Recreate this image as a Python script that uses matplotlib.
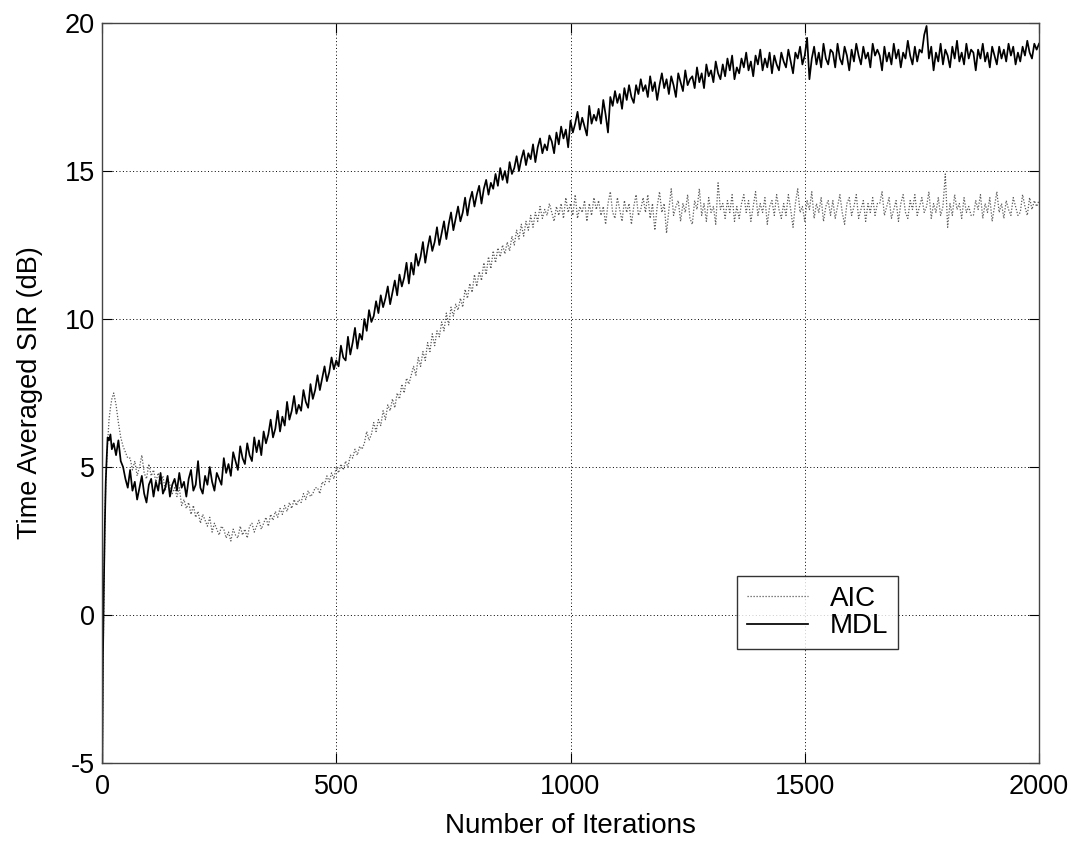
import matplotlib
matplotlib.use("Agg")
import matplotlib.pyplot as plt

# ---------------- data ----------------
early_iters = [0, 2, 4, 6, 8, 10, 12, 15, 18, 21, 25, 30, 35, 40, 45, 50, 55]
step_iters = list(range(60, 2001, 5))
iterations = early_iters + step_iters

mdl_early = [-7.0, -1.5, 1.0, 3.0, 4.5, 5.3, 6.0, 5.9, 6.1, 5.6, 5.8, 5.4, 5.9, 5.2, 5.0, 4.6, 4.3]
mdl_main = [
    4.9, 4.2, 4.5, 3.9, 4.3, 4.7, 4.1, 3.8, 4.4, 4.6, 4.0, 4.5, 4.2, 4.8, 4.1, 4.3, 4.7, 4.0, 4.4, 4.6,
    4.2, 4.8, 4.3, 4.5, 4.0, 4.6, 4.9, 4.2, 4.4, 5.2, 4.3, 4.1, 4.7, 4.4, 5.0, 4.5, 4.2, 4.8, 4.6, 4.4,
    5.3, 4.8, 5.1, 4.7, 5.5, 5.2, 4.9, 5.7, 5.3, 5.1, 5.8, 5.4, 5.2, 6.0, 5.5, 5.9, 5.4, 6.2, 5.8, 6.1,
    6.6, 6.0, 6.3, 6.9, 6.2, 6.7, 6.4, 7.2, 6.6, 6.9, 7.4, 6.8, 7.1, 6.9, 7.6, 7.2, 7.0, 7.8, 7.3, 7.6,
    8.1, 7.6, 8.0, 8.4, 7.9, 8.2, 8.7, 8.3, 8.6, 8.4, 9.1, 8.7, 8.6, 9.4, 8.8, 9.2, 9.7, 9.0, 9.5, 9.3,
    10.0, 9.6, 10.3, 9.9, 10.1, 10.6, 10.2, 10.8, 10.4, 10.7, 11.1, 10.5, 10.9, 11.3, 10.8, 11.5, 11.1, 11.4, 11.9, 11.2,
    11.9, 11.5, 12.2, 11.8, 12.1, 12.6, 11.9, 12.4, 12.8, 12.3, 12.6, 13.1, 12.5, 12.9, 13.3, 12.7, 13.2, 13.6, 13.0, 13.4,
    13.8, 13.3, 13.6, 14.1, 13.5, 14.0, 14.3, 13.8, 14.2, 14.5, 13.9, 14.4, 14.7, 14.2, 14.6, 14.4, 14.9, 14.5, 15.1, 14.7,
    15.0, 14.6, 15.3, 14.9, 15.1, 15.5, 15.0, 15.4, 15.7, 15.2, 15.6, 15.4, 15.9, 15.3, 15.8, 16.1, 15.6, 15.9, 15.7, 16.2,
    16.0, 15.6, 16.3, 15.9, 16.5, 16.1, 16.4, 15.8, 16.7, 16.3, 16.6, 17.0, 16.4, 16.8, 16.5, 16.2, 17.2, 16.6, 16.9, 16.7,
    17.1, 16.6, 17.4, 16.9, 16.3, 17.5, 17.2, 17.7, 17.3, 17.6, 17.1, 17.8, 17.4, 17.9, 17.5, 17.3, 17.9, 17.6, 18.1, 17.7,
    17.9, 17.5, 18.2, 17.7, 18.0, 17.4, 17.9, 18.3, 17.8, 18.1, 17.6, 18.2, 17.9, 17.5, 18.3, 18.0, 17.7, 18.4, 17.9, 18.1,
    18.2, 17.8, 18.5, 18.0, 18.3, 17.8, 18.6, 18.2, 18.4, 18.0, 18.7, 18.3, 18.1, 18.6, 18.2, 18.8, 18.4, 18.9, 18.1, 18.5,
    18.3, 18.8, 18.5, 19.0, 18.4, 18.7, 18.2, 18.9, 18.6, 19.1, 18.4, 18.8, 18.5, 19.0, 18.3, 18.9, 18.6, 18.4, 19.0, 18.7,
    18.5, 19.1, 18.7, 18.3, 19.0, 18.8, 19.2, 18.6, 18.9, 19.5, 18.1, 18.8, 19.2, 18.6, 19.0, 18.5, 19.3, 18.8, 18.6, 19.1,
    19.0, 18.5, 19.3, 18.8, 18.6, 19.2, 18.9, 18.4, 19.1, 18.7, 19.3, 18.9, 18.6, 19.2, 18.8, 19.0, 18.5, 19.3, 18.9, 19.1,
    18.9, 18.4, 19.2, 18.7, 19.0, 18.6, 19.3, 18.8, 19.1, 18.5, 19.0, 18.8, 19.4, 18.9, 18.6, 19.2, 18.7, 19.1, 19.0, 19.6,
    19.9, 18.8, 19.2, 18.4, 19.0, 18.7, 19.3, 18.6, 19.1, 18.9, 18.5, 19.2, 18.8, 19.4, 18.7, 19.0, 18.6, 19.3, 18.8, 19.1,
    19.0, 18.4, 19.1, 18.8, 19.3, 18.7, 19.0, 18.5, 19.2, 18.9, 18.6, 19.2, 18.8, 19.1, 18.7, 19.3, 18.9, 19.2, 18.6, 19.0,
    18.7, 19.2, 18.9, 19.4, 19.0, 18.8, 19.3, 19.1, 19.3,
]
mdl = mdl_early + mdl_main

aic_early = [-7.0, -2.0, 0.5, 3.0, 4.5, 5.2, 5.8, 6.6, 7.0, 7.3, 7.5, 7.1, 6.5, 6.0, 5.7, 5.5, 5.3]
aic_main = [
    5.3, 4.9, 5.2, 4.7, 5.0, 5.4, 4.8, 4.6, 5.1, 4.7, 4.9, 4.5, 4.8, 4.4, 4.7, 4.2, 4.6, 4.4, 4.1, 4.3,
    4.0, 4.3, 3.7, 3.9, 3.6, 3.8, 3.4, 3.7, 3.3, 3.5, 3.1, 3.4, 3.2, 3.0, 3.3, 2.8, 3.1, 2.9, 2.7, 3.0,
    2.9, 2.6, 2.8, 2.5, 2.9, 2.7, 2.6, 3.0, 2.7, 2.9, 2.6, 3.0, 3.1, 2.8, 3.0, 3.2, 2.9, 3.1, 3.3, 3.0,
    3.4, 3.2, 3.5, 3.3, 3.6, 3.4, 3.7, 3.5, 3.8, 3.6, 3.9, 3.7, 3.9, 3.8, 4.1, 3.9, 4.2, 4.0, 4.1, 4.3,
    4.3, 4.1, 4.5, 4.4, 4.7, 4.5, 4.8, 4.6, 5.0, 4.8, 5.1, 4.9, 5.2, 5.0, 5.4, 5.3, 5.6, 5.4, 5.7, 5.6,
    5.8, 6.2, 5.9, 6.1, 6.5, 6.2, 6.6, 6.4, 6.9, 6.6, 7.1, 6.9, 7.3, 7.0, 7.5, 7.3, 7.8, 7.5, 8.0, 7.8,
    8.1, 8.4, 8.1, 8.7, 8.4, 8.9, 8.6, 9.2, 8.9, 9.5, 9.1, 9.6, 9.4, 9.9, 9.6, 10.2, 9.8, 10.4, 10.1, 10.5,
    10.3, 10.7, 10.4, 11.0, 10.7, 11.2, 10.9, 11.5, 11.1, 11.6, 11.3, 11.9, 11.5, 12.1, 11.7, 12.3, 11.9, 12.4, 12.1, 12.5,
    12.2, 12.6, 12.3, 12.8, 12.5, 13.0, 12.7, 13.2, 12.8, 13.3, 13.0, 13.5, 13.1, 13.6, 13.3, 13.8, 13.4, 13.7, 13.5, 13.9,
    13.6, 13.3, 13.8, 13.5, 13.9, 13.4, 14.1, 13.6, 13.9, 13.5, 14.2, 13.4, 13.8, 13.6, 14.0, 13.3, 13.9, 13.5, 14.1, 13.7,
    14.0, 13.5, 13.8, 13.2, 13.9, 14.3, 13.6, 13.4, 14.1, 13.7, 13.3, 14.0, 13.6, 13.9, 13.2, 13.8, 14.2, 13.5, 13.7, 14.1,
    13.6, 14.2, 13.4, 13.9, 13.0, 13.8, 14.3, 13.6, 13.9, 12.9, 13.7, 14.4, 13.5, 13.8, 14.0, 13.3, 13.9, 13.6, 14.2, 13.4,
    13.2, 14.0, 13.7, 14.4, 13.5, 13.9, 13.3, 14.1, 13.6, 13.8, 13.2, 14.6, 13.7, 13.9, 13.4, 14.0, 13.6, 14.2, 13.3, 13.8,
    13.4, 13.9, 14.2, 13.6, 14.0, 13.3, 13.8, 14.3, 13.5, 13.9, 13.6, 14.1, 13.2, 13.8, 14.0, 13.5, 14.2, 13.7, 13.4, 13.9,
    13.5, 14.2, 13.7, 13.1, 13.9, 14.4, 13.6, 13.8, 13.3, 14.0, 13.7, 14.3, 13.4, 13.9, 13.6, 14.1, 13.3, 13.8, 14.0, 13.5,
    14.0, 13.4, 13.8, 14.2, 13.6, 13.2, 13.9, 14.1, 13.5, 13.8, 14.2, 13.4, 13.7, 14.0, 13.3, 13.9, 13.6, 14.1, 13.5, 13.9,
    13.9, 14.3, 13.5, 13.8, 14.1, 13.4, 13.7, 14.0, 13.3, 13.9, 14.2, 13.6, 13.4, 14.0, 13.7, 14.2, 13.5, 13.8, 14.1, 13.6,
    13.8, 14.3, 13.4, 13.9, 13.6, 14.1, 13.5, 13.8, 14.9, 13.1, 13.9, 13.5, 14.2, 13.7, 13.9, 13.4, 14.1, 13.6, 13.8, 13.5,
    13.5, 14.0, 13.7, 14.2, 13.4, 13.9, 13.6, 14.1, 13.3, 13.8, 14.3, 13.6, 13.9, 13.4, 14.0, 13.7, 13.5, 14.1, 13.8, 13.5,
    13.6, 14.2, 13.8, 13.5, 14.1, 13.7, 14.0, 13.8, 14.0,
]
aic = aic_early + aic_main

x_ticks = [0, 500, 1000, 1500, 2000]
y_ticks = [-5, 0, 5, 10, 15, 20]
series_labels = ["AIC", "MDL"]
x_label = "Number of Iterations"
y_label = "Time Averaged SIR (dB)"

# ---------------- figure ----------------
plt.rcParams["font.family"] = ["Liberation Sans", "DejaVu Sans"]

fig = plt.figure(figsize=(10.75, 8.44), dpi=100)
ax = fig.add_axes([102 / 1075, 1 - 763 / 844, (1039 - 102) / 1075, (763 - 23) / 844])

ax.plot(iterations, aic, linestyle=(0, (1, 1.4)), color="0.35", linewidth=0.9, label=series_labels[0])
ax.plot(iterations, mdl, linestyle="-", color="black", linewidth=1.25, label=series_labels[1])

ax.set_xlim(0, 2000)
ax.set_ylim(-5, 20)
ax.set_xticks(x_ticks)
ax.set_yticks(y_ticks)
ax.set_xticklabels([str(v) for v in x_ticks])
ax.set_yticklabels([str(v) for v in y_ticks])
ax.tick_params(direction="in", length=7, width=0.8, top=True, right=True, labelsize=19.5)
ax.tick_params(axis="x", pad=8)
ax.tick_params(axis="y", pad=5)
ax.grid(True, color="black", linestyle=(0, (1, 2.5)), linewidth=0.7)
for s in ax.spines.values():
    s.set_linewidth(1.0)
    s.set_color("#444444")

ax.set_xlabel(x_label, fontsize=20, labelpad=9)
ax.set_ylabel(y_label, fontsize=19.5, labelpad=16)

leg = ax.legend(loc="lower left", bbox_to_anchor=((737 - 102) / 937, (763 - 649) / 740),
                fontsize=20, frameon=True, fancybox=False, edgecolor="black",
                handlelength=2.2, handletextpad=0.8, borderpad=0.35, labelspacing=0.05,
                borderaxespad=0)
leg.get_frame().set_linewidth(1.0)

fig.savefig("out.png", dpi=100)
